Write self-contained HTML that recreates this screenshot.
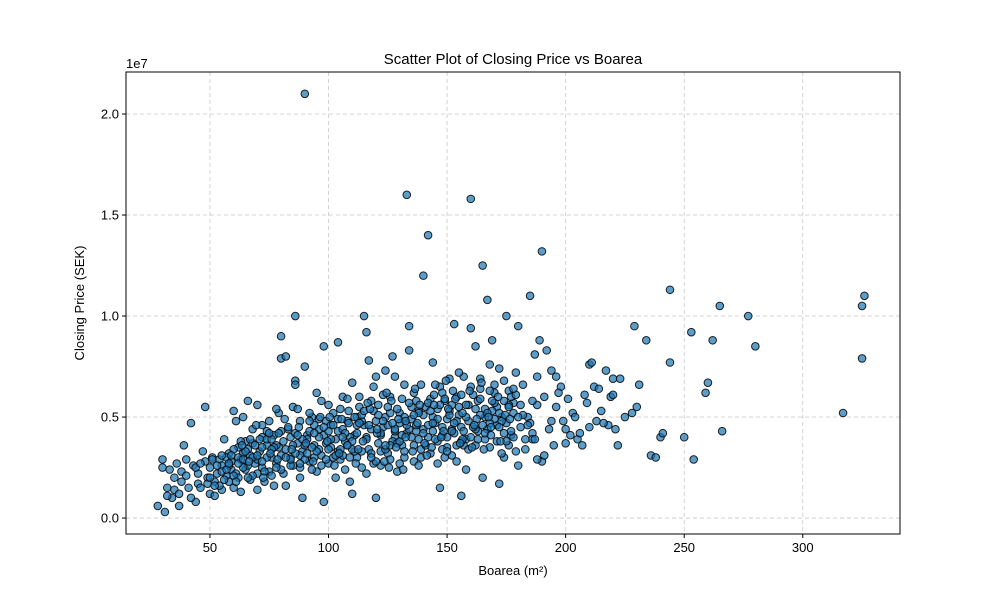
<!DOCTYPE html>
<html><head><meta charset="utf-8"><style>
body{margin:0;background:#fff;}
svg{display:block;font-family:"Liberation Sans","DejaVu Sans",sans-serif;}
</style></head><body>
<svg id="chart" width="1000" height="600" xmlns="http://www.w3.org/2000/svg">
<rect width="1000" height="600" fill="#fff"/>
<text x="513" y="64" text-anchor="middle" font-size="15">Scatter Plot of Closing Price vs Boarea</text>
<text x="126" y="68" font-size="13">1e7</text>
<text x="513" y="575" text-anchor="middle" font-size="13">Boarea (m²)</text>
<text x="84" y="303" text-anchor="middle" font-size="13" transform="rotate(-90 84 303)">Closing Price (SEK)</text>
<g id="grid"></g>
<g id="pts"></g>
<rect x="126" y="72" width="774" height="462" fill="none" stroke="#000" stroke-width="1"/>
<g id="ticks"></g>
</svg>
<script>
const xTicks=[50,100,150,200,250,300];
const yTicks=[0,5,10,15,20];
const yTickLabels=["0.0","0.5","1.0","1.5","2.0"];
const areas=[
28,30,30,31,32,33,34,35,36,37,38,38,40,40,41,42,43,44,45,45,
32,35,37,39,42,44,
46,47,48,48,49,50,50,51,52,53,54,55,55,56,57,58,58,59,60,60,
46,49,52,55,57,59,
61,61,62,63,63,64,65,65,66,67,67,68,69,70,70,71,72,72,73,74,
75,75,76,77,77,78,79,79,80,80,62,64,66,68,70,72,74,76,78,80,
81,82,83,84,85,85,86,86,87,88,88,89,90,90,91,92,93,94,95,95,
96,97,98,98,99,100,100,82,84,87,89,91,93,94,96,97,99,86,88,92,
101,102,103,104,104,105,106,107,108,109,110,110,111,112,113,114,115,115,116,117,
118,119,120,120,101,103,105,107,109,111,113,114,116,118,119,117,106,108,112,121,
121,122,123,124,125,126,127,128,129,130,131,132,133,134,134,135,136,137,138,139,
140,140,122,124,126,128,130,132,135,137,139,123,127,131,133,136,138,125,129,142,
141,143,144,145,146,147,147,148,149,150,151,152,153,154,155,156,157,158,159,160,
160,142,144,146,148,150,152,154,156,158,143,145,149,151,153,155,157,159,161,162,
163,164,165,165,166,167,168,169,170,171,172,172,173,174,175,176,177,178,179,180,
163,166,168,170,174,176,178,180,164,167,171,173,175,177,179,162,169,181,182,183,
184,185,186,187,188,189,190,190,191,192,193,194,195,196,198,199,200,201,202,203,
205,207,208,209,210,211,212,213,214,215,217,218,219,220,221,222,223,225,228,229,
230,231,186,188,191,194,197,200,204,206,210,216,220,188,196,
234,236,238,240,241,244,244,250,253,254,259,260,262,265,266,277,280,317,325,325,326,
58,62,66,70,74,78,82,86,90,94,98,102,106,110,114,118,122,126,130,134,138,142,146,150,154,158,162,166,170,174,178,
60,64,68,72,76,80,84,88,92,96,100,104,108,112,116,120,124,128,132,136,140,144,148,152,156,160,164,168,172,176,
50,53,56,59,62,65,68,71,74,77,80,83,86,89,92,95,98,101,104,107,110,113,116,119,122,125,128,131,134,137,140,143,146,149,152,155,158,161,164,167,170,173,176,179,182,185,
51,54,57,60,63,66,69,72,75,78,81,84,87,90,93,96,99,102,105,108,111,114,117,120,123,126,129,132,135,138,141,144,147,150,153,156,159,162,165,168,171,174,177,180,183,186,
52,55,58,61,64,67,70,73,76,79,82,85,88,91,94,97,100,103,106,109,112,115,118,121,124,127,130,133,136,139,142,145,148,151,154,157,160,163,166,169,172,175,178,181,184,187,
63.5,66.5,69.5,72.5,75.5,78.5,81.5,84.5,87.5,90.5,93.5,96.5,99.5,102.5,105.5,108.5,111.5,114.5,117.5,120.5,123.5,126.5,129.5,132.5,135.5,138.5,141.5,144.5,147.5,150.5,153.5,156.5,159.5,162.5,165.5,168.5,171.5,174.5,
100.5,104.5,108.5,112.5,116.5,120.5,124.5,128.5,132.5,136.5,140.5,144.5,148.5,152.5,156.5,160.5,164.5,168.5,172.5,176.5,125.5,131.5,137.5,143.5,149.5,155.5,161.5,167.5
];
const prices=[
0.6,2.5,2.9,0.3,1.5,2.4,1.0,2.0,2.7,0.6,1.8,2.3,2.1,2.9,1.5,4.7,2.6,0.8,1.7,2.2,
1.1,1.4,1.2,3.6,1.0,2.5,
1.5,3.3,5.5,2.8,2.0,1.2,2.5,3.0,1.8,2.2,2.9,1.4,2.6,3.9,2.1,1.8,3.2,2.4,5.3,1.5,
2.7,1.7,1.1,2.3,3.0,2.8,
2.2,4.8,3.5,1.3,2.9,5.0,2.4,3.8,5.8,1.9,3.1,4.4,2.7,5.6,1.4,3.3,2.5,4.0,1.8,3.6,
2.3,4.8,3.0,1.6,4.1,2.7,3.5,5.2,9.0,7.9,2.0,3.2,2.6,3.7,2.9,4.6,3.9,2.1,5.4,3.1,
2.2,8.0,4.4,3.0,5.5,2.6,10.0,6.8,3.7,4.8,2.0,3.3,21.0,7.5,4.1,2.8,5.0,3.6,6.2,2.3,
4.4,3.1,8.5,0.8,4.8,2.7,5.6,1.6,4.0,5.4,1.0,3.9,2.4,4.6,3.4,5.8,3.7,6.6,2.5,4.3,
3.5,5.2,2.0,8.7,4.3,2.9,6.0,3.8,4.8,1.8,6.7,1.2,4.1,3.0,5.5,2.5,10.0,4.6,9.2,3.4,
5.8,2.7,7.0,1.0,4.6,3.9,5.4,2.4,4.0,3.3,6.0,4.8,2.2,4.4,6.5,7.8,3.1,5.9,5.0,3.7,
5.6,2.6,4.5,7.3,3.2,6.0,8.0,4.0,2.3,5.2,3.6,6.6,16.0,9.5,8.3,4.9,2.8,5.8,3.9,6.6,
12.0,4.4,3.3,5.0,2.9,7.0,4.7,3.0,5.5,4.3,3.4,6.1,3.8,5.9,4.2,6.2,2.6,4.6,3.7,14.0,
5.5,3.2,7.7,4.7,2.7,6.5,1.5,4.1,5.8,3.5,6.9,4.4,9.6,2.8,5.1,1.1,7.0,3.9,5.6,15.8,
9.4,4.0,5.0,3.8,6.2,4.9,3.1,6.0,4.5,2.4,5.9,6.6,3.0,5.3,4.2,7.2,3.6,4.8,6.1,8.5,
4.3,6.4,12.5,2.0,5.4,10.8,3.5,8.8,6.2,4.6,1.7,7.4,5.0,3.0,10.0,6.3,4.1,5.7,3.3,9.5,
5.8,3.9,7.6,4.9,6.8,3.6,5.2,2.6,6.9,4.4,5.5,3.2,4.7,6.0,7.2,3.6,5.3,4.5,6.6,3.4,
5.0,11.0,4.2,8.1,5.6,8.8,13.2,2.8,6.0,8.3,4.4,7.3,3.6,5.5,6.5,4.8,3.7,5.9,4.1,5.2,
3.9,3.6,6.1,5.7,7.6,7.7,6.5,4.8,6.4,5.3,7.3,4.6,6.0,6.9,4.4,3.6,6.9,5.0,5.2,9.5,
5.5,6.6,3.9,7.0,3.1,4.8,6.2,4.4,5.0,4.2,4.5,4.7,6.1,2.9,7.0,
8.8,3.1,3.0,4.0,4.2,11.3,7.7,4.0,9.2,2.9,6.2,6.7,8.8,10.5,4.3,10.0,8.5,5.2,10.5,7.9,11.0,
2.6,3.0,3.4,2.2,4.3,3.6,3.4,4.2,3.6,3.0,4.1,3.0,4.4,3.8,5.1,3.2,4.1,5.2,3.8,4.4,5.3,4.6,5.4,4.0,4.8,5.6,4.4,5.0,5.7,4.2,4.0,
3.4,2.5,3.0,3.5,3.9,4.3,2.6,3.1,5.2,4.9,4.3,3.3,3.6,4.6,4.0,4.8,3.4,4.3,5.0,3.6,5.1,4.3,3.4,5.6,3.8,4.0,5.1,4.7,5.2,5.6,
2.0,2.6,1.9,3.1,2.7,3.3,2.1,3.9,3.0,3.5,2.4,4.5,3.2,3.9,4.8,3.3,4.5,3.9,4.9,4.2,3.4,4.7,3.9,5.3,4.2,5.5,4.4,4.1,5.7,4.6,4.2,5.3,4.9,5.9,4.3,5.5,5.0,4.5,5.9,5.2,6.6,4.8,5.5,6.1,5.1,4.7,
2.9,1.6,2.4,2.1,3.8,2.0,3.6,2.8,4.2,2.5,3.8,2.9,4.1,2.9,3.5,4.0,2.9,4.6,3.4,3.6,5.0,3.3,4.6,2.8,4.8,3.6,5.4,3.3,4.0,5.2,3.6,4.7,5.6,3.3,4.7,6.1,3.4,5.4,4.6,6.3,3.8,5.8,4.3,5.0,3.9,5.8,
1.6,3.1,2.7,1.8,2.9,3.9,3.1,2.3,3.4,4.2,3.0,3.6,2.7,3.2,4.2,2.6,3.4,3.1,4.0,3.0,4.2,5.3,3.0,5.1,3.6,4.7,2.7,4.6,5.1,3.0,5.7,3.9,4.5,5.1,3.6,4.3,6.5,3.9,4.2,5.8,4.5,3.8,6.4,5.6,4.6,3.9,
3.6,2.8,4.6,2.0,3.2,2.9,4.9,3.4,4.5,3.7,2.8,5.0,3.8,2.6,4.9,5.3,2.7,3.8,5.4,4.2,2.8,5.8,4.9,4.0,3.3,5.6,3.1,6.1,4.0,5.4,5.9,3.9,6.3,4.9,3.4,4.5,6.0,5.1,
5.0,3.2,4.7,3.4,5.7,4.4,6.2,3.5,4.8,6.4,3.7,5.6,4.3,6.3,5.2,3.5,6.7,4.1,3.8,4.9,2.5,2.4,4.7,3.5,6.8,3.7,4.6,5.0
];
// prices in millions SEK
const NS="http://www.w3.org/2000/svg";
const X0=126,X1=900,Y0=72,Y1=534;
const xMin=14.6,xMax=341,yMin=-0.79,yMax=22.08;
const sx=v=>X0+(v-xMin)/(xMax-xMin)*(X1-X0);
const sy=v=>Y1-(v-yMin)/(yMax-yMin)*(Y1-Y0);
function mk(tag,attrs,parent){const e=document.createElementNS(NS,tag);for(const k in attrs)e.setAttribute(k,attrs[k]);parent.appendChild(e);return e;}
const grid=document.getElementById('grid'),ticks=document.getElementById('ticks'),pts=document.getElementById('pts');
xTicks.forEach(t=>{
  const x=sx(t);
  const g=mk('line',{x1:x,x2:x,y1:Y0,y2:Y1,stroke:'#b0b0b0','stroke-width':0.8,'stroke-dasharray':'4,3','stroke-opacity':0.7},grid);
  
  
  const tk=mk('line',{x1:x,x2:x,y1:Y1,y2:Y1+4,stroke:'#000'},ticks);
  
  
  const tl=mk('text',{x:x,y:Y1+18,'text-anchor':'middle','font-size':13},ticks);
  tl.textContent=t;
  
  
});
yTicks.forEach((t,i)=>{
  const y=sy(t);
  const g=mk('line',{x1:X0,x2:X1,y1:y,y2:y,stroke:'#b0b0b0','stroke-width':0.8,'stroke-dasharray':'4,3','stroke-opacity':0.7},grid);
  
  
  const tk=mk('line',{x1:X0-4,x2:X0,y1:y,y2:y,stroke:'#000'},ticks);
  
  
  const tl=mk('text',{x:X0-7,y:y+4.5,'text-anchor':'end','font-size':13},ticks);
  tl.textContent=yTickLabels[i];
  
  
});
const n=Math.min(areas.length,prices.length);
for(let i=0;i<n;i++){
  const c=mk('circle',{cx:sx(areas[i]),cy:sy(prices[i]),r:3.8,fill:'#1f77b4','fill-opacity':0.72,stroke:'#000','stroke-opacity':0.85,'stroke-width':1},pts);
  
  
}
</script>
</body></html>
